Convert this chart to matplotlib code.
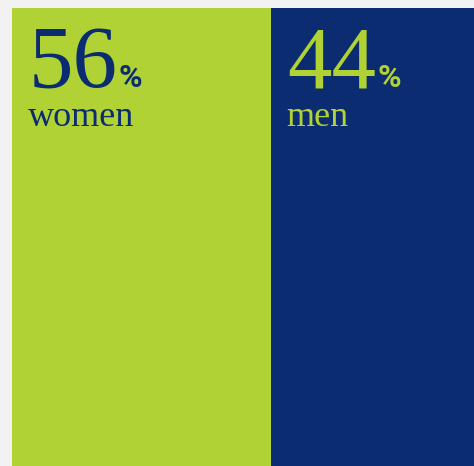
import matplotlib
matplotlib.use('Agg')
import matplotlib.pyplot as plt

labels = ['women', 'men']
shares = [56, 44]
bar_colors = ['#b0d235', '#0b2c70']
text_colors = ['#0b2c70', '#b0d235']

fig = plt.figure(figsize=(4.74, 4.66), dpi=100, facecolor='#f2f2f2')
ax = fig.add_axes([12 / 474, 0, 1 - 12 / 474, 458 / 466])
ax.set_xlim(0, sum(shares))
ax.set_ylim(0, 1)
ax.axis('off')

lefts = [sum(shares[:i]) for i in range(len(shares))]
ax.bar(lefts, [1] * len(shares), width=shares, align='edge',
       color=bar_colors, edgecolor='none')

fig.canvas.draw()
r = fig.canvas.get_renderer()
px = 72 / fig.dpi
for left, val, lab, c in zip(lefts, shares, labels, text_colors):
	num = ax.annotate(str(val), xy=(left, 1), xytext=(17 * px, -79 * px),
	                  textcoords='offset points', fontsize=64, color=c,
	                  family='Liberation Serif', va='baseline', ha='left')
	bb = num.get_window_extent(r)
	x0 = ax.transData.transform((left, 1))[0]
	ax.annotate('%', xy=(left, 1), xytext=((bb.x1 - x0 + 1) * px, -79 * px),
	            textcoords='offset points', fontsize=23, color=c,
	            family='Roboto', weight='bold', va='baseline', ha='left')
	ax.annotate(lab, xy=(left, 1), xytext=(16 * px, -118 * px),
	            textcoords='offset points', fontsize=26, color=c,
	            family='Liberation Serif', va='baseline', ha='left')

fig.savefig('out.png', dpi=100, facecolor=fig.get_facecolor())
